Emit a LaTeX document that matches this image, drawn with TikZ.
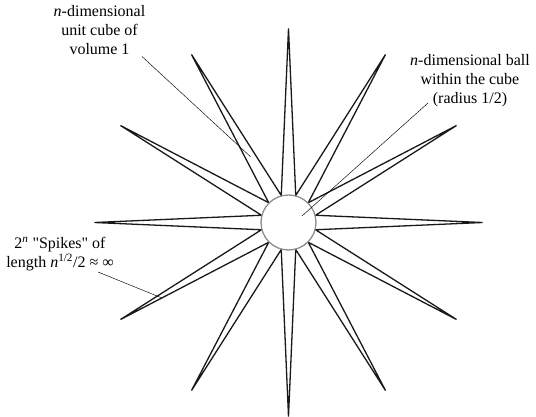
\documentclass[tikz,border=0pt]{standalone}
\usepackage{fontspec}
\setmainfont{Liberation Serif}[Ligatures=TeXOff]
\usepackage{tikz}
\tikzset{every node/.append style={font=\fontsize{16}{19}\selectfont}}

\begin{document}
\begin{tikzpicture}[x=1pt, y=1pt,
    spike/.style={line width=1.3pt, black!90},
    ball/.style={circle, draw=black!45, fill=white, line width=1.3pt, minimum size=55pt, inner sep=0pt},
    leader/.style={line width=0.45pt},
    note/.style={align=center, inner sep=0pt}]
    \useasboundingbox (-288.5,-193.5) rectangle (247.5,222.5);
    \draw[spike] (0:194) \foreach \a in {0,30,...,330} { -- (\a+15:28) -- (\a+30:194) } -- cycle;
    \node[ball] (ball) at (0,0) {};
    \node[note] (cube) at (-189,192) {\textit{n}-dimensional\\unit cube of\\volume 1};
    \node[note] (ballnote) at (181.5,141.8) {\textit{n}-dimensional ball\\within the cube\\(radius 1/2)};
    \node[note] (spikes) at (-228.5,-31.5) {2\textsuperscript{\textit{n}} "Spikes" of\\length \textit{n}\textsuperscript{1/2}/2 ≈ ∞};
    \coordinate (cube from) at (-146.5,166);
    \coordinate (cube to) at (120:76);
    \coordinate (ball from) at (139.5,119.5);
    \coordinate (ball to) at (13.5,6.5);
    \coordinate (spikes from) at (-190.5,-49.5);
    \coordinate (spikes to) at (211:147);
    \draw[leader] (cube from) -- (cube to);
    \draw[leader] (ball from) -- (ball to);
    \draw[leader] (spikes from) -- (spikes to);
\end{tikzpicture}
\end{document}
